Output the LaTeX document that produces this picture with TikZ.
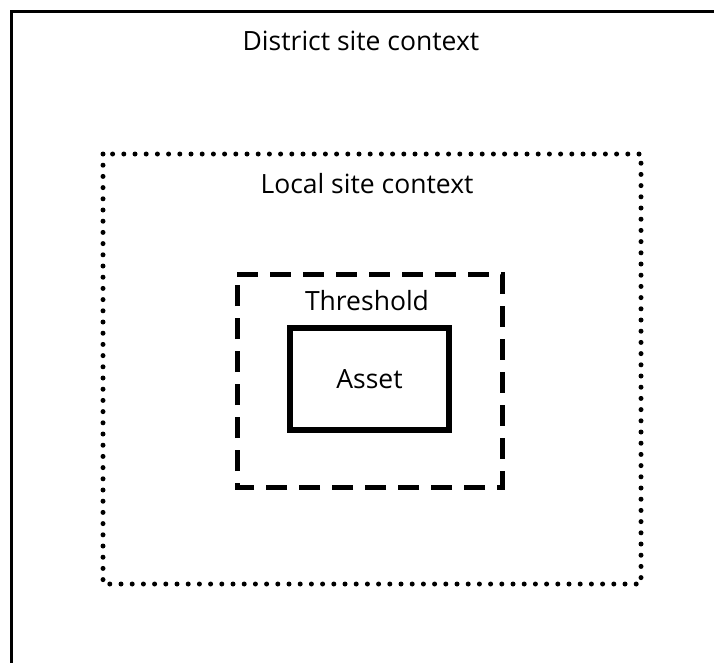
\documentclass[tikz,border=0pt]{standalone}
\usepackage{fontspec}
\setmainfont{Open Sans}
\begin{document}
\begin{tikzpicture}[x=1pt,y=-1pt,
  zonelabel/.style={font=\fontsize{26.5}{30}\selectfont, inner sep=0pt},
  districtframe/.style={draw, line width=3pt},
  localframe/.style={draw, line width=5pt, line cap=round, dash pattern=on 0pt off 11.2pt},
  thresholdframe/.style={draw, line width=5pt, dash pattern=on 21pt off 12pt},
  assetbox/.style={draw, line width=5.5pt, inner sep=0pt}]
  \useasboundingbox (0,0) rectangle (714,662);
  \begin{scope}
    \clip (0,0) rectangle (714,662);
    % district frame runs past the page on the right and bottom
    \draw[districtframe] (11,11) rectangle (760,720);
  \end{scope}
  \node[zonelabel] (district) at (361,41) {District site context};
  % local site context
  \draw[localframe] (103,154) rectangle (641,584);
  \node[zonelabel] (local) at (367,184) {Local site context};
  % threshold
  \draw[thresholdframe] (237,274) -- (502,274) -- (502,487) -- (237,487) -- cycle;
  \node[zonelabel] (threshold) at (367,301) {Threshold};
  % asset
  \node[assetbox, zonelabel, minimum width=159pt, minimum height=102pt] (asset) at (369.5,379) {Asset};
\end{tikzpicture}
\end{document}
